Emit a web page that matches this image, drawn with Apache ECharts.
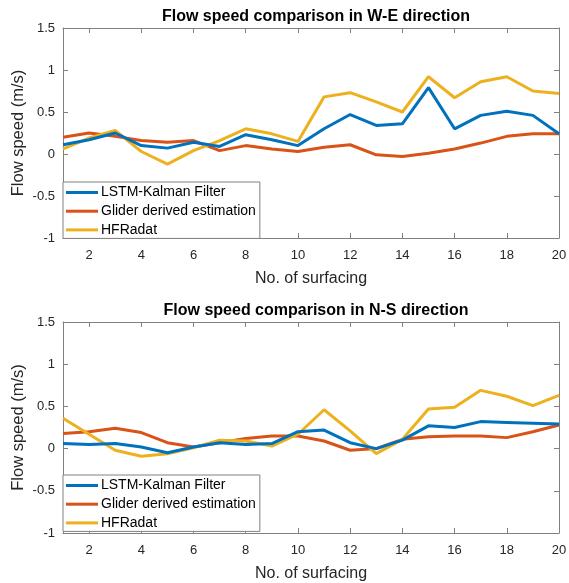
<!DOCTYPE html>
<html>
<head>
<meta charset="utf-8">
<script src="https://cdn.jsdelivr.net/npm/echarts@6/dist/echarts.min.js"></script>
<style>
html,body{margin:0;padding:0;background:#fff;}
#c{width:569px;height:583px;}
</style>
</head>
<body>
<div id="c"></div>
<script>
// Data
const surfacing = [1,2,3,4,5,6,7,8,9,10,11,12,13,14,15,16,17,18,19,20];
const xTickValues = [2,4,6,8,10,12,14,16,18,20];
const yTickValues = [-1,-0.5,0,0.5,1,1.5];
const seriesNames = ['LSTM-Kalman Filter','Glider derived estimation','HFRadat'];

const weLSTM   = [0.11,0.17,0.25,0.10,0.07,0.14,0.09,0.23,0.17,0.10,0.30,0.47,0.34,0.36,0.79,0.30,0.46,0.51,0.46,0.24];
const weGlider = [0.20,0.25,0.21,0.16,0.14,0.16,0.04,0.10,0.06,0.03,0.08,0.11,-0.01,-0.03,0.01,0.06,0.13,0.21,0.24,0.24];
const weHFR    = [0.06,0.19,0.28,0.03,-0.12,0.04,0.16,0.30,0.24,0.15,0.68,0.73,0.62,0.50,0.92,0.67,0.86,0.92,0.75,0.72];

const nsLSTM   = [0.06,0.05,0.06,0.02,-0.05,0.02,0.07,0.05,0.06,0.20,0.22,0.07,0.00,0.10,0.27,0.25,0.32,0.31,0.30,0.29];
const nsGlider = [0.18,0.20,0.24,0.19,0.07,0.02,0.07,0.12,0.15,0.15,0.09,-0.02,0.00,0.11,0.14,0.15,0.15,0.13,0.20,0.28];
const nsHFR    = [0.36,0.17,-0.02,-0.09,-0.06,0.01,0.10,0.09,0.03,0.17,0.46,0.21,-0.06,0.11,0.47,0.49,0.69,0.62,0.51,0.63];

const titles = ['Flow speed comparison in W-E direction','Flow speed comparison in N-S direction'];
const colors = ['#0072BD','#D95319','#EDB120'];

const font = 'Liberation Sans, Arial, Helvetica, sans-serif';
const textColor = '#262626';
const frameColor = '#808080';

const grids = [
  {left:63, right:10, top:28, height:210, outerBoundsMode:'none', containLabel:false},
  {left:63, right:10, top:322, height:211, outerBoundsMode:'none', containLabel:false}
];

function zip(xs, ys){ return xs.map((x,i)=>[x, ys[i]]); }

const xAxes = [], yAxes = [], series = [], titleArr = [], legends = [];
const sets = [[weLSTM,weGlider,weHFR],[nsLSTM,nsGlider,nsHFR]];

grids.forEach((g, gi) => {
  xAxes.push({
    type:'value', gridIndex:gi, min:1, max:20, position:'bottom',
    name:'No. of surfacing', nameLocation:'middle', nameGap:33, nameMoveOverlap:false,
    nameTextStyle:{fontFamily:font, fontSize:16, color:textColor},
    axisLine:{show:true, onZero:false, lineStyle:{color:frameColor, width:1}},
    axisTick:{show:true, inside:true, length:5, customValues:xTickValues, lineStyle:{color:frameColor}},
    axisLabel:{show:true, customValues:xTickValues, fontFamily:font, fontSize:13, color:textColor, margin:11},
    splitLine:{show:false}
  });
  xAxes.push({
    type:'value', gridIndex:gi, min:1, max:20, position:'top',
    axisLine:{show:true, onZero:false, lineStyle:{color:frameColor, width:1}},
    axisTick:{show:true, inside:true, length:5, customValues:xTickValues, lineStyle:{color:frameColor}},
    axisLabel:{show:false},
    splitLine:{show:false}
  });
  yAxes.push({
    type:'value', gridIndex:gi, min:-1, max:1.5, interval:0.5, position:'left',
    name:'Flow speed (m/s)', nameLocation:'middle', nameGap:36, nameMoveOverlap:false,
    nameTextStyle:{fontFamily:font, fontSize:16.5, color:textColor},
    axisLine:{show:true, onZero:false, lineStyle:{color:frameColor, width:1}},
    axisTick:{show:true, inside:true, length:5, lineStyle:{color:frameColor}},
    axisLabel:{show:true, fontFamily:font, fontSize:13, color:textColor, margin:8,
      formatter: v => String(Math.round(v*10)/10)},
    splitLine:{show:false}
  });
  yAxes.push({
    type:'value', gridIndex:gi, min:-1, max:1.5, interval:0.5, position:'right',
    axisLine:{show:true, onZero:false, lineStyle:{color:frameColor, width:1}},
    axisTick:{show:true, inside:true, length:5, lineStyle:{color:frameColor}},
    axisLabel:{show:false},
    splitLine:{show:false}
  });
  sets[gi].forEach((arr, si) => {
    series.push({
      type:'line', name:seriesNames[si], xAxisIndex:gi*2, yAxisIndex:gi*2,
      data: zip(surfacing, arr), showSymbol:false, symbol:'none',
      lineStyle:{color:colors[si], width:3}, itemStyle:{color:colors[si]},
      z: 3 + (si===0 ? 2 : si===1 ? 0 : 1)
    });
  });
  titleArr.push({
    text:titles[gi], left: 311, textAlign:'center', top: g.top - 24,
    textStyle:{fontFamily:font, fontSize:16, fontWeight:'bold', color:'#000'}
  });
});

[182, 475].forEach((top) => {
  legends.push({
    show:true, orient:'vertical', left:63, top:top,
    data: seriesNames,
    itemWidth:32, itemHeight:3, itemGap:3.7,
    icon:'rect',
    padding:[3,4,1,3],
    backgroundColor:'#fff', borderColor:frameColor, borderWidth:1,
    textStyle:{fontFamily:font, fontSize:14, color:'#000', padding:[0,0,0,-2], lineHeight:15},
    selectedMode:false,
    z: 10
  });
});

const chart = echarts.init(document.getElementById('c'), null, {renderer:'canvas'});
chart.setOption({
  animation:false,
  backgroundColor:'#fff',
  color: colors,
  title: titleArr,
  legend: legends,
  grid: grids,
  xAxis: xAxes,
  yAxis: yAxes,
  series: series
});
</script>
</body>
</html>
